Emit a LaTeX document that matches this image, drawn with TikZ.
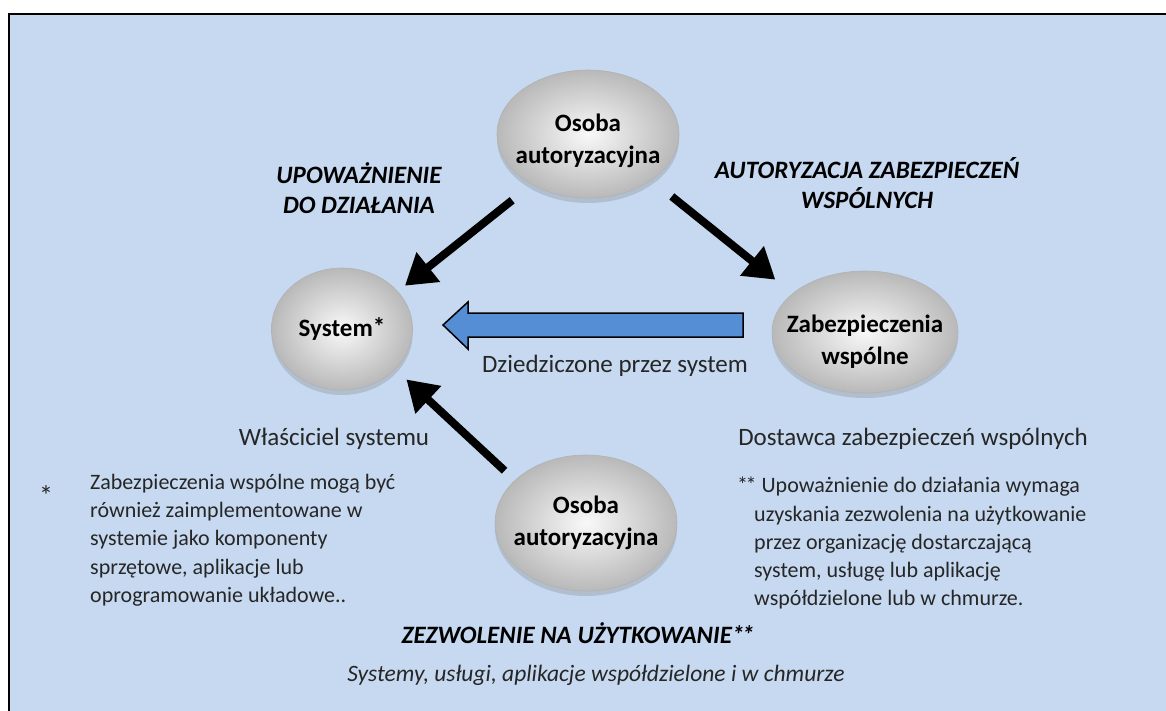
\documentclass[tikz,border=0pt]{standalone}
\usepackage{fontspec}
\setmainfont{Carlito}
\usepackage{xcolor}
\usetikzlibrary{arrows.meta,shapes.geometric,shadows}

\definecolor{bgblue}{RGB}{198,217,240}
\definecolor{arrblue}{RGB}{85,142,213}
\definecolor{txtgray}{RGB}{38,38,38}
\newcommand{\dstar}{*\kern-2.5pt*}

\begin{document}
\begin{tikzpicture}[x=1pt, y=-1pt, font=\fontsize{25}{28}\selectfont,
    role/.style={ellipse, inner sep=-20pt, shade, inner color=gray!5, outer color=gray!55,
      draw=gray!60, line width=0.6pt,
      drop shadow={shadow xshift=0pt, shadow yshift=-5pt, opacity=0.3},
      font=\fontsize{25}{32}\selectfont\bfseries, align=center},
    grant/.style={line width=8pt, -{Triangle[length=30pt,width=36pt]}},
    head/.style={font=\fontsize{25}{30}\selectfont\bfseries\itshape, align=center},
    note/.style={text=txtgray, font=\fontsize{22}{28.2}\selectfont, align=left, anchor=north west, inner sep=0pt}]
    \useasboundingbox (0,0) rectangle (1166,711);
    % ---- background panel
    \fill[bgblue] (9,14) rectangle (1166,711);
    \draw[line width=1.2pt] (9,711) -- (9,14) -- (1166,14);
    % ---- the four parties
    \node[role, minimum width=182pt, minimum height=128pt] (auth)   at (588,134) {\rule{0pt}{32pt}Osoba\\autoryzacyjna};
    \node[role, minimum width=141pt, minimum height=122pt] (sys)    at (342,329) {System\raisebox{1pt}{*}};
    \node[role, minimum width=186pt, minimum height=122pt] (common) at (865,332) {\rule{0pt}{36pt}Zabezpieczenia\\wspólne};
    \node[role, minimum width=182pt, minimum height=136pt] (auth2)  at (586,523) {Osoba\\autoryzacyjna};
    % ---- authorisations
    \draw[grant, shorten <=25pt, shorten >=9pt]  (auth.-138) -- (sys.34);
    \draw[grant, shorten <=26pt, shorten >=22pt] (auth.-36)  -- (common.152);
    \draw[grant, shorten <=14pt, shorten >=15pt] (auth2.149) -- (sys.-37);
    % ---- inheritance
    \draw[fill=arrblue, line width=1.5pt, line join=miter]
      (743,313) -- (468,313) -- (468,302) -- (443,325) -- (468,349) -- (468,337) -- (743,337) -- cycle;
    \node[text=txtgray] (inh) at (615,366) {Dziedziczone przez system};
    % ---- labels
    \node[head] (ato)  at (359,188) {UPOWAŻNIENIE\\DO DZIAŁANIA};
    \node[head] (cca)  at (867,183) {AUTORYZACJA ZABEZPIECZEŃ\\WSPÓLNYCH};
    \node[text=txtgray] (own)  at (334,439) {Właściciel systemu};
    \node[text=txtgray] (prov) at (913,439) {Dostawca zabezpieczeń wspólnych};
    % ---- footnotes
    \node[text=txtgray, font=\fontsize{28}{28}\selectfont] (ast) at (46,496) {*};
    \node[note] (n1) at (90,474) {Zabezpieczenia wspólne mogą być\\
      również zaimplementowane w\\
      systemie jako komponenty\\
      sprzętowe, aplikacje lub\\
      oprogramowanie układowe..};
    \node[note] (n2) at (737,477) {\dstar\ Upoważnienie do działania wymaga\\
      \hspace*{17pt}uzyskania zezwolenia na użytkowanie\\
      \hspace*{17pt}przez organizację dostarczającą\\
      \hspace*{17pt}system, usługę lub aplikację\\
      \hspace*{17pt}współdzielone lub w chmurze.};
    % ---- bottom
    \node[head] (use) at (578,633) {ZEZWOLENIE NA UŻYTKOWANIE\dstar};
    \node[font=\fontsize{23.5}{28}\selectfont\itshape, text=txtgray] (scope) at (596,675) {Systemy, usługi, aplikacje współdzielone i w chmurze};
\end{tikzpicture}
\end{document}
